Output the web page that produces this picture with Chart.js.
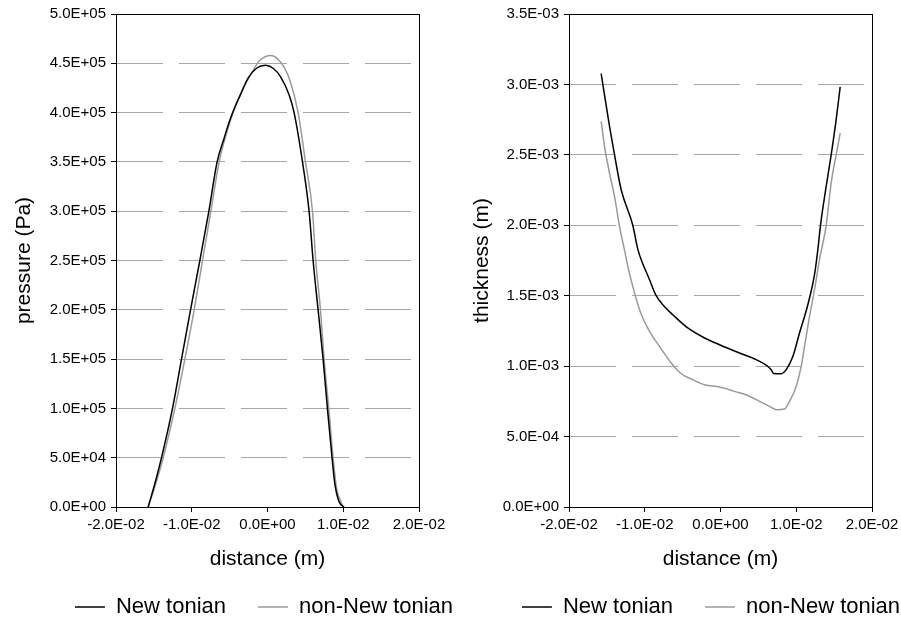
<!DOCTYPE html>
<html>
<head>
<meta charset="utf-8">
<script src="https://cdn.jsdelivr.net/npm/chart.js@4.4.0/dist/chart.umd.min.js"></script>
<style>
  html, body { margin: 0; padding: 0; background: #fff; overflow: hidden; width: 901px; height: 618px; }
  canvas { position: absolute; top: 0; }
  #pressureChart { left: 0; }
  #thicknessChart { left: 440px; }
</style>
</head>
<body>
<canvas id="pressureChart" width="528" height="628"></canvas>
<canvas id="thicknessChart" width="542" height="628"></canvas>
<script>
const seriesNames = ['New tonian', 'non-New tonian'];
const xAxisTitle = 'distance (m)';

// left chart: pressure (Pa) vs distance (m)
const pressureNewtX = [-0.01575, -0.01474, -0.01399, -0.01254, -0.01135, -0.01016, -0.00893, -0.00774, -0.00665, -0.00577, -0.00480, -0.00365, -0.00256, -0.00145, -0.00026, 0.00074, 0.00175, 0.00285, 0.00351, 0.00462, 0.00549, 0.00602, 0.00668, 0.00734, 0.00791, 0.00852, 0.00888, 0.00945, 0.01011];
const pressureNewtY = [0, 27400, 50000, 100000, 150000, 200000, 250000, 300000, 350000, 373000, 396000, 417000, 435000, 445000, 448000, 445000, 436000, 418000, 400000, 350000, 300000, 250000, 200000, 150000, 100000, 50000, 24000, 5400, 0];
const pressureNonNewtX = [-0.01575, -0.01487, -0.01377, -0.01223, -0.01091, -0.00968, -0.00858, -0.00748, -0.00638, -0.00541, -0.00454, -0.00322, -0.00211, -0.00102, 0.00044, 0.00185, 0.00294, 0.00404, 0.00501, 0.00594, 0.00637, 0.00699, 0.00747, 0.00809, 0.00866, 0.00910, 0.00997];
const pressureNonNewtY = [0, 20600, 50000, 100000, 150000, 200000, 250000, 300000, 350000, 379000, 400000, 424000, 440000, 453000, 458000, 450000, 433000, 400000, 350000, 300000, 250000, 200000, 150000, 100000, 50000, 20000, 0];

// right chart: thickness (m) vs distance (m)
const thickNewtX = [-0.01575, -0.01553, -0.01465, -0.01399, -0.01311, -0.01158, -0.01090, -0.00937, -0.00849, -0.00762, -0.00630, -0.00432, -0.00211, -0.00013, 0.00251, 0.00471, 0.00669, 0.00700, 0.00801, 0.00867, 0.00955, 0.01043, 0.01153, 0.01241, 0.01285, 0.01320, 0.01395, 0.01461, 0.01527, 0.01580];
const thickNewtY = [3.076e-3, 3.0e-3, 2.702e-3, 2.5e-3, 2.252e-3, 2.0e-3, 1.827e-3, 1.614e-3, 1.5e-3, 1.436e-3, 1.365e-3, 1.271e-3, 1.200e-3, 1.152e-3, 1.093e-3, 1.046e-3, 0.975e-3, 0.948e-3, 0.946e-3, 0.975e-3, 1.069e-3, 1.235e-3, 1.436e-3, 1.649e-3, 1.827e-3, 2.0e-3, 2.276e-3, 2.5e-3, 2.75e-3, 2.982e-3];
const thickNonNewtX = [-0.01575, -0.01531, -0.01465, -0.01399, -0.01333, -0.01254, -0.01224, -0.01158, -0.01069, -0.00937, -0.00805, -0.00651, -0.00519, -0.00366, -0.00211, -0.00013, 0.00185, 0.00339, 0.00515, 0.00647, 0.00735, 0.00845, 0.00911, 0.00999, 0.01065, 0.01109, 0.01175, 0.01241, 0.01307, 0.01395, 0.01461, 0.01527, 0.01580];
const thickNonNewtY = [2.738e-3, 2.560e-3, 2.371e-3, 2.205e-3, 1.992e-3, 1.790e-3, 1.708e-3, 1.566e-3, 1.401e-3, 1.247e-3, 1.140e-3, 1.022e-3, 0.946e-3, 0.904e-3, 0.868e-3, 0.852e-3, 0.821e-3, 0.797e-3, 0.750e-3, 0.714e-3, 0.691e-3, 0.696e-3, 0.750e-3, 0.856e-3, 0.998e-3, 1.140e-3, 1.353e-3, 1.543e-3, 1.756e-3, 2.0e-3, 2.30e-3, 2.50e-3, 2.655e-3];

Chart.defaults.color = '#000';
Chart.defaults.font.family = '"Liberation Sans", Arial, sans-serif';

// Excel style 0.0E+00 labels
function sci(v) {
  if (Math.abs(v) < 1e-12) return '0.0E+00';
  const parts = v.toExponential(1).split('e');
  const e = parseInt(parts[1], 10);
  return parts[0] + 'E' + (e < 0 ? '-' : '+') + String(Math.abs(e)).padStart(2, '0');
}

function points(xs, ys) {
  return xs.map((x, i) => ({ x: x, y: ys[i] }));
}

const framePlugin = {
  id: 'frame',
  beforeDatasetsDraw(chart) {
    const { ctx, chartArea: a } = chart;
    ctx.save();
    ctx.strokeStyle = '#000';
    ctx.lineWidth = 1;
    ctx.strokeRect(Math.round(a.left) + 0.5, Math.round(a.top) + 0.5,
      Math.round(a.right - a.left), Math.round(a.bottom - a.top));
    ctx.restore();
  }
};

function lineSet(label, data, color) {
  return {
    label: label,
    data: data,
    showLine: true,
    borderColor: color,
    backgroundColor: color,
    borderWidth: 1.5,
    pointRadius: 0,
    cubicInterpolationMode: 'monotone'
  };
}

function makeChart(id, opts) {
  return new Chart(document.getElementById(id), {
    type: 'scatter',
    data: {
      datasets: [
        lineSet(seriesNames[0], opts.black, '#000000'),
        lineSet(seriesNames[1], opts.gray, '#9a9a9a')
      ]
    },
    options: {
      responsive: false,
      animation: false,
      layout: { padding: { top: 14, left: 0, right: 0, bottom: 0 } },
      plugins: {
        tooltip: { enabled: false },
        legend: {
          position: 'bottom',
          labels: {
            usePointStyle: true,
            pointStyle: 'line',
            pointStyleWidth: 30,
            padding: 32,
            font: { size: 22 }
          }
        }
      },
      scales: {
        x: {
          type: 'linear',
          min: -0.02, max: 0.02,
          afterFit(scale) {
            scale.height = 57;
            scale.paddingRight = opts.padRight;
          },
          ticks: {
            stepSize: 0.01,
            padding: 4,
            maxRotation: 0,
            font: { size: 15 },
            callback: v => sci(v)
          },
          grid: { drawOnChartArea: false, drawTicks: true, tickLength: 5, tickColor: '#000', tickBorderDash: [] },
          border: { color: '#000', width: 1 },
          title: { display: true, text: xAxisTitle, font: { size: 21 }, padding: { top: 0, bottom: -8 } }
        },
        y: {
          min: 0, max: opts.yMax,
          afterFit(scale) { scale.width = opts.yWidth; },
          ticks: {
            stepSize: opts.yStep,
            padding: 5,
            font: { size: 15 },
            callback: v => sci(v)
          },
          grid: { color: '#a8a8a8', lineWidth: 1, tickLength: 5, tickColor: '#000', tickBorderDash: [] },
          border: { color: '#000', width: 1, dash: [46, 16] },
          title: { display: true, text: opts.yTitle, font: { size: 21 }, padding: { top: opts.yTitlePad, bottom: 0 } }
        }
      }
    },
    plugins: [framePlugin]
  });
}

makeChart('pressureChart', {
  black: points(pressureNewtX, pressureNewtY),
  gray: points(pressureNonNewtX, pressureNonNewtY),
  yMax: 500000, yStep: 50000,
  yTitle: 'pressure (Pa)',
  yWidth: 116, yTitlePad: 12, padRight: 109
});

makeChart('thicknessChart', {
  black: points(thickNewtX, thickNewtY),
  gray: points(thickNonNewtX, thickNonNewtY),
  yMax: 0.0035, yStep: 0.0005,
  yTitle: 'thickness (m)',
  yWidth: 129, yTitlePad: 30, padRight: 110
});
</script>
</body>
</html>
